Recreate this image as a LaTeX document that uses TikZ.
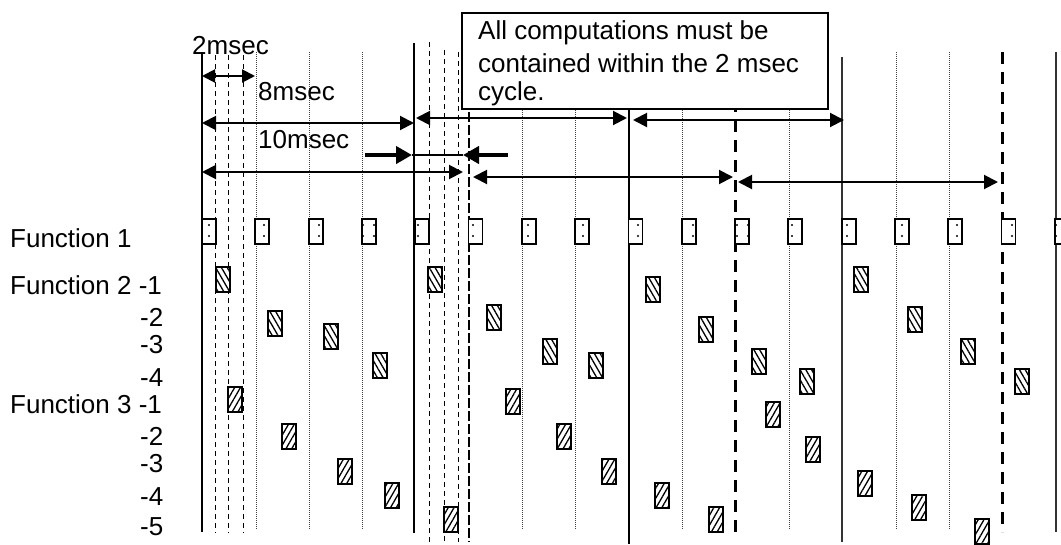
\documentclass[tikz,border=0pt]{standalone}
\usepackage{fontspec}
\setmainfont{Liberation Sans}
\usetikzlibrary{arrows.meta,patterns.meta}
\begin{document}
\begin{tikzpicture}[x=1pt,y=-1pt,
  mainline/.style={line width=1.8pt},
  thindash/.style={line width=1pt, dash pattern=on 5pt off 4pt},
  dotline/.style={line width=0.8pt, dash pattern=on 1pt off 1pt, black!75},
  thickdash/.style={line width=3pt, dash pattern=on 12pt off 8pt},
  densedash/.style={line width=2.6pt, dash pattern=on 10pt off 3pt},
  fbox/.style={draw, line width=1.8pt, preaction={fill=white}, pattern={Dots[distance=11pt,radius=1.1pt]}},
  hatchA/.style={draw, line width=2pt, preaction={fill=white}, pattern={Lines[angle=-60,distance=5pt,line width=1.3pt]}},
  hatchB/.style={draw, line width=2pt, preaction={fill=white}, pattern={Lines[angle=60,distance=5pt,line width=1.3pt]}},
  lbl/.style={font=\fontsize{26}{30}\selectfont, inner sep=0pt, anchor=base west},
  arr/.style={line width=2pt, {Triangle[length=14pt,width=14pt]}-{Triangle[length=14pt,width=14pt]}},
  thickarr/.style={line width=4.5pt, -{Triangle[length=16pt,width=17pt]}}
]
\useasboundingbox (0,0) rectangle (1061,544);

% vertical grid lines
\draw[mainline] (202,52) -- (202,532);
\foreach \x in {215,228,243} \draw[thindash] (\x,55) -- (\x,533);
\foreach \x in {256,309,362} \draw[dotline] (\x,52) -- (\x,530);
\draw[mainline] (414,43) -- (414,533);
\draw[thindash] (429,42) -- (429,542);
\draw[thindash] (444,50) -- (444,542);
\draw[thindash] (458,52) -- (458,542);
\draw[densedash] (469,60) -- (469,542);
\foreach \x in {522,575,682,789} \draw[dotline] (\x,60) -- (\x,530);
\draw[mainline] (629,60) -- (629,544);
\draw[thickdash] (735,60) -- (735,532);
\draw[mainline, black!80] (842,57) -- (842,542);
\foreach \x in {896,949} \draw[dotline] (\x,52) -- (\x,530);
\draw[thickdash] (1002,52) -- (1002,532);
\draw[mainline, black!80] (1056,52) -- (1056,532);

% note box
\node[draw, line width=2pt, fill=white, anchor=north west, minimum width=366pt, minimum height=96pt, inner sep=0pt] (note) at (461,12) {};
\node[lbl] (n1) at (478,39) {All computations must be};
\node[lbl] (n2) at (478,72) {contained within the 2 msec};
\node[lbl] (n3) at (478,100) {cycle.};

% period labels
\node[lbl] (l2) at (192,54) {2msec};
\node[lbl] (l8) at (258,100) {8msec};
\node[lbl] (l10) at (258,148) {10msec};

% arrows
\coordinate (a2l) at (202,76); \coordinate (a2r) at (255,76);
\draw[line width=2pt, {Triangle[length=13pt,width=13pt]}-{Triangle[length=13pt,width=13pt]}] (a2l) -- (a2r);
\coordinate (a8a) at (202,123); \coordinate (a8b) at (414,123);
\coordinate (a8c) at (416,118); \coordinate (a8d) at (627,118);
\coordinate (a8e) at (633,120); \coordinate (a8f) at (844,120);
\draw[arr] (a8a) -- (a8b);
\draw[arr] (a8c) -- (a8d);
\draw[arr] (a8e) -- (a8f);
\coordinate (a10a) at (202,172); \coordinate (a10b) at (463,172);
\coordinate (a10c) at (473,177); \coordinate (a10d) at (733,177);
\coordinate (a10e) at (738,182); \coordinate (a10f) at (998,182);
\draw[arr] (a10a) -- (a10b);
\draw[arr] (a10c) -- (a10d);
\draw[arr] (a10e) -- (a10f);
\coordinate (t1) at (365,155); \coordinate (t2) at (412,155);
\coordinate (t3) at (508,155); \coordinate (t4) at (463,155);
\draw[line width=1.8pt] (t2) -- (t4);
\draw[thickarr] (t1) -- (t2);
\draw[thickarr] (t3) -- (t4);

% function labels
\node[lbl] (f1) at (10,247) {Function 1};
\node[lbl] (f21) at (10,294) {Function 2 -1};
\node[lbl] (f22) at (140,326) {-2};
\node[lbl] (f23) at (140,353) {-3};
\node[lbl] (f24) at (140,386) {-4};
\node[lbl] (f31) at (10,413) {Function 3 -1};
\node[lbl] (f32) at (140,445) {-2};
\node[lbl] (f33) at (140,472) {-3};
\node[lbl] (f34) at (140,505) {-4};
\node[lbl] (f35) at (140,535) {-5};

% function 1 boxes
\foreach \i in {0,...,16} \path[fbox] ({202+53.3*\i},219) rectangle ++(14,25);

% function 2 boxes
\foreach \x/\y in {216/267,268/311,324/324,373/353,428/267,487/305,543/339,589/353,646/277,699/317,752/349,800/369,854/267,908/307,961/339,1015/369}
  \path[hatchA] (\x,\y) rectangle ++(14,25);

% function 3 boxes
\foreach \x/\y in {228/387,282/424,338/459,385/483,444/507,506/389,557/424,602/459,655/483,709/507,766/402,806/437,858/471,912/495,975/519}
  \path[hatchB] (\x,\y) rectangle ++(14,25);
\end{tikzpicture}
\end{document}
